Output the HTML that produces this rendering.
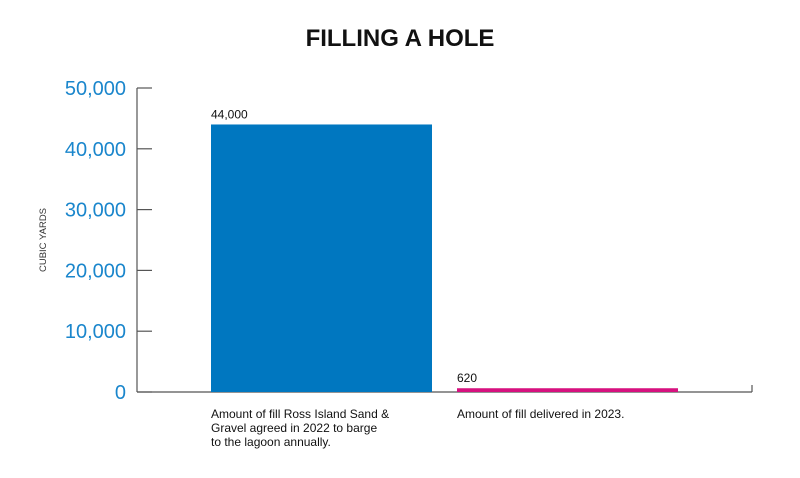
<!DOCTYPE html>
<html><head><meta charset="utf-8"><style>
body{margin:0;background:#fff;width:800px;height:473px;overflow:hidden;font-family:"Liberation Sans",sans-serif}
</style></head><body>
<svg width="800" height="473" id="c">
<text x="400" y="46" text-anchor="middle" font-size="24" font-weight="bold" fill="#111">FILLING A HOLE</text>
<text transform="translate(46,240) rotate(-90)" text-anchor="middle" font-size="9.5" fill="#333">CUBIC YARDS</text>
<line x1="137" y1="88" x2="137" y2="392" stroke="#555" stroke-width="1.2"/>
<line x1="137" y1="392" x2="752" y2="392" stroke="#555" stroke-width="1.2"/>
<line x1="752" y1="385" x2="752" y2="392" stroke="#555" stroke-width="1.2"/>
<g id="g"></g>
</svg>
<script>
const categories=["Amount of fill Ross Island Sand & Gravel agreed in 2022 to barge to the lagoon annually.","Amount of fill delivered in 2023."];
const catLines=[["Amount of fill Ross Island Sand &","Gravel agreed in 2022 to barge","to the lagoon annually."],["Amount of fill delivered in 2023."]];
const values=[44000,620];
const valueLabels=["44,000","620"];
const ticks=[0,10000,20000,30000,40000,50000];
const tickLabels=["0","10,000","20,000","30,000","40,000","50,000"];
const colors=["#0077c0","#d6117f"];
const ns="http://www.w3.org/2000/svg",g=document.getElementById("g");
const y=v=>392-v/50000*304;
const bx=[211,457],bw=221;
function mk(t,a){const e=document.createElementNS(ns,t);for(const k in a)e.setAttribute(k,a[k]);g.appendChild(e);return e;}
ticks.forEach((t,i)=>{
 const l=mk("line",{x1:137,x2:152,y1:y(t),y2:y(t),stroke:"#555","stroke-width":1.2});
 
 
 const tx=mk("text",{x:126,y:y(t)+7,"text-anchor":"end","font-size":20,fill:"#1a86cc"});
 tx.textContent=tickLabels[i];
 
 
});
values.forEach((v,i)=>{
 const r=mk("rect",{x:bx[i],y:y(v),width:bw,height:Math.max(392-y(v),3),fill:colors[i]});
 
 
 const t=mk("text",{x:bx[i],y:y(v)-6,"font-size":12,fill:"#111"});
 t.textContent=valueLabels[i];
 
 
 catLines[i].forEach((s,j)=>{
  const c=mk("text",{x:bx[i],y:418+j*14,"font-size":12,fill:"#111"});
  c.textContent=s;
  
  
 });
});
</script>
</body></html>
